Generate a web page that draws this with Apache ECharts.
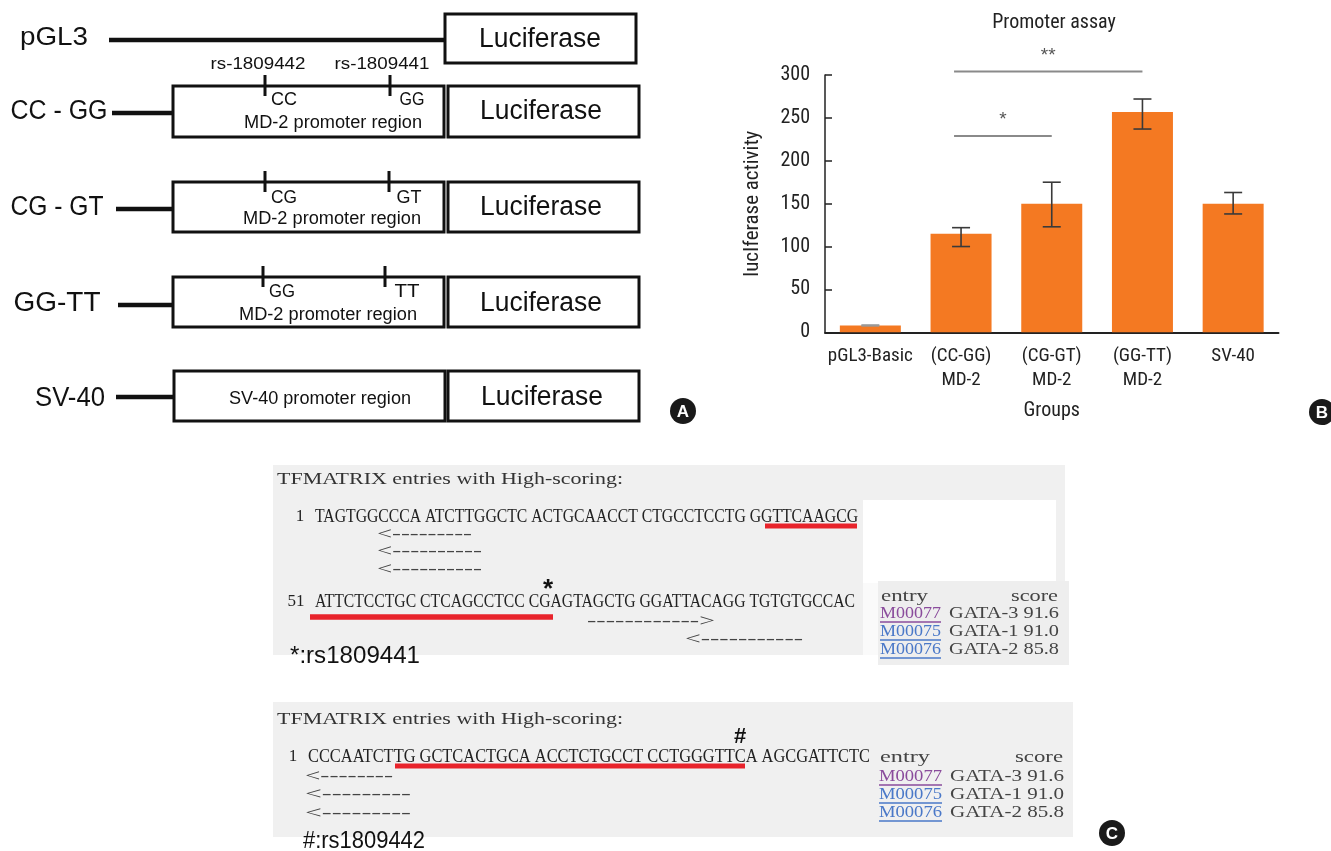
<!DOCTYPE html>
<html style="height: 100%">
    <head>
        <title>Promoter assay</title>
        <meta charset="utf-8">
    </head>
    <body style="height: 100%; margin: 0; background: #fff">
        <div id="container" style="width: 1331px; height: 851px"></div>

        <script type="text/javascript" src="https://cdn.jsdelivr.net/npm/echarts@6/dist/echarts.min.js"></script>
        <script type="text/javascript">
            // panel B data
            var categories = ['pGL3-Basic', '(CC-GG)\nMD-2', '(CG-GT)\nMD-2', '(GG-TT)\nMD-2', 'SV-40'];
            var activity = [8, 115, 150, 257, 150];
            var errLow = [7.5, 100, 123, 237, 138];
            var errHigh = [8.5, 122, 175, 272, 163];
            // [from category, to category, level, mark]
            var sigPairs = [[1, 3, 304, '**'], [1, 2, 229, '*']];

            // panel A / C texts
            var constructs = ['pGL3', 'CC - GG', 'CG - GT', 'GG-TT', 'SV-40'];
            var alleles = [['CC', 'GG'], ['CG', 'GT'], ['GG', 'TT']];
            var seqLines1 = ['TAGTGGCCCA ATCTTGGCTC ACTGCAACCT CTGCCTCCTG GGTTCAAGCG',
                             'ATTCTCCTGC CTCAGCCTCC CGAGTAGCTG GGATTACAGG TGTGTGCCAC'];
            var seqLine2 = 'CCCAATCTTG GCTCACTGCA ACCTCTGCCT CCTGGGTTCA AGCGATTCTC';
            var entries = [['M00077', 'GATA-3 91.6', '#8a4c9c'],
                           ['M00075', 'GATA-1 91.0', '#4a78c8'],
                           ['M00076', 'GATA-2 85.8', '#4a78c8']];

            var NARROW = "'Liberation Sans Narrow', 'Roboto Condensed', 'Arial Narrow', 'Liberation Sans', sans-serif";
            var SANS = "'Liberation Sans', Arial, sans-serif";
            var SERIF = "'Liberation Serif', 'Times New Roman', serif";

            var ctx = document.createElement('canvas').getContext('2d');
            function fitText(str, x, y, w, size, family, opts) {
                opts = opts || {};
                var weight = opts.weight || 'normal';
                ctx.font = weight + ' ' + size + 'px ' + family;
                var sx = w ? w / ctx.measureText(str).width : 1;
                return {
                    type: 'text', x: x, y: y, scaleX: sx, z: 20,
                    style: {
                        text: str, fill: opts.color || '#111', fontSize: size, fontFamily: family,
                        fontWeight: weight, textAlign: opts.align || 'center', textVerticalAlign: 'middle'
                    }
                };
            }
            function box(x1, y1, x2, y2, fill, stroke, lw) {
                return {
                    type: 'rect', z: 5, shape: { x: x1, y: y1, width: x2 - x1, height: y2 - y1 },
                    style: { fill: fill || '#fff', stroke: stroke || null, lineWidth: lw || 0 }
                };
            }
            function seg(x1, y1, x2, y2, lw, color) {
                return {
                    type: 'line', z: 10, shape: { x1: x1, y1: y1, x2: x2, y2: y2 },
                    style: { stroke: color || '#111', lineWidth: lw }
                };
            }
            function badge(cx, cy, letter) {
                return [
                    { type: 'circle', z: 20, shape: { cx: cx, cy: cy, r: 13 }, style: { fill: '#1a1a1a' } },
                    fitText(letter, cx, cy + 1, 0, 17, SANS, { weight: 'bold', color: '#fff' })
                ];
            }

            var g = [];
            // ---- panel A ----
            g.push(fitText(constructs[0], 54, 38, 68, 26, SANS));
            g.push(seg(109, 40, 445, 40, 4.5));
            g.push(box(445, 14, 636, 63, '#fff', '#111', 3));
            g.push(fitText('Luciferase', 540, 40, 122, 27, SANS));
            g.push(fitText('rs-1809442', 258, 64, 95, 17, SANS));
            g.push(fitText('rs-1809441', 382, 64, 95, 17, SANS));

            var rows = [
                { lab: 59, labW: 97, cy: 112, lx1: 112, top: 86, bot: 137, tick: [265, 390], lt: [284, 412], ly: 100, mdx: 333 },
                { lab: 57, labW: 93, cy: 208, lx1: 116, top: 182, bot: 232, tick: [265, 389], lt: [284, 409], ly: 198, mdx: 332 },
                { lab: 57, labW: 87, cy: 304, lx1: 118, top: 277, bot: 327, tick: [263, 385], lt: [282, 407], ly: 292, mdx: 328 }
            ];
            rows.forEach(function (r, i) {
                g.push(fitText(constructs[i + 1], r.lab, r.cy, r.labW, 27, SANS));
                g.push(seg(r.lx1, r.cy + 1, 173, r.cy + 1, 4.5));
                g.push(box(173, r.top, 444, r.bot, '#fff', '#111', 3));
                g.push(box(448, r.top, 639, r.bot, '#fff', '#111', 3));
                g.push(fitText('Luciferase', 541, r.cy, 122, 27, SANS));
                g.push(seg(r.tick[0], r.top - 11, r.tick[0], r.top + 10, 3));
                g.push(seg(r.tick[1], r.top - 11, r.tick[1], r.top + 10, 3));
                g.push(fitText(alleles[i][0], r.lt[0], r.ly, 26, 18, SANS));
                g.push(fitText(alleles[i][1], r.lt[1], r.ly, 25, 18, SANS));
                g.push(fitText('MD-2 promoter region', r.mdx, r.cy + 11, 178, 18, SANS));
            });
            g.push(fitText(constructs[4], 70, 399, 70, 27, SANS));
            g.push(seg(116, 397, 174, 397, 4.5));
            g.push(box(174, 371, 445, 421, '#fff', '#111', 3));
            g.push(box(448, 371, 639, 421, '#fff', '#111', 3));
            g.push(fitText('SV-40 promoter region', 320, 399, 182, 18, SANS));
            g.push(fitText('Luciferase', 542, 398, 122, 27, SANS));
            g = g.concat(badge(683, 411, 'A'));

            // ---- panel C, first screenshot ----
            g.push(box(273, 465, 1065, 655, '#f0f0f0'));
            g.push(box(863, 500, 1056, 583, '#ffffff'));
            g.push(box(863, 583, 878, 655, '#fafafa'));
            g.push(box(878, 581, 1069, 665, '#eeeeee'));
            g.push(fitText('TFMATRIX entries with High-scoring:', 277, 480, 346, 17, SERIF, { align: 'left', color: '#333' }));
            g.push(fitText('1', 300, 517, 0, 17, SERIF, { color: '#222' }));
            g.push(fitText(seqLines1[0], 315, 517, 543, 18, SERIF, { align: 'left', color: '#222' }));
            g.push(seg(765, 526, 857, 526, 5, '#e8232b'));
            g.push(fitText('<---------', 377, 535, 95, 16, SERIF, { align: 'left', color: '#444' }));
            g.push(fitText('<----------', 377, 552, 105, 16, SERIF, { align: 'left', color: '#444' }));
            g.push(fitText('<----------', 377, 570, 105, 16, SERIF, { align: 'left', color: '#444' }));
            g.push(fitText('*', 548, 590, 0, 26, SANS, { weight: 'bold' }));
            g.push(fitText('51', 296, 602, 0, 17, SERIF, { color: '#222' }));
            g.push(fitText(seqLines1[1], 315, 602, 540, 18, SERIF, { align: 'left', color: '#222' }));
            g.push(seg(310, 617, 553, 617, 5.5, '#e8232b'));
            g.push(fitText('------------>', 587, 622, 128, 16, SERIF, { align: 'left', color: '#444' }));
            g.push(fitText('<-----------', 685, 640, 118, 16, SERIF, { align: 'left', color: '#444' }));
            g.push(fitText('*:rs1809441', 290, 657, 130, 23, SANS, { align: 'left' }));
            g.push(fitText('entry', 881, 597, 47, 17, SERIF, { align: 'left', color: '#444' }));
            g.push(fitText('score', 1058, 597, 47, 17, SERIF, { align: 'right', color: '#444' }));
            entries.forEach(function (e, i) {
                var y = 614 + i * 18;
                g.push(fitText(e[0], 880, y, 61, 17, SERIF, { align: 'left', color: e[2] }));
                g.push(seg(880, y + 8, 941, y + 8, 1.5, e[2]));
                g.push(fitText(e[1], 949, y, 110, 17, SERIF, { align: 'left', color: '#444' }));
            });

            // ---- panel C, second screenshot ----
            g.push(box(273, 702, 1073, 837, '#f0f0f0'));
            g.push(fitText('TFMATRIX entries with High-scoring:', 277, 720, 346, 17, SERIF, { align: 'left', color: '#333' }));
            g.push(fitText('#', 740, 737, 0, 22, SANS, { weight: 'bold' }));
            g.push(fitText('1', 293, 757, 0, 17, SERIF, { color: '#222' }));
            g.push(fitText(seqLine2, 308, 757, 562, 18, SERIF, { align: 'left', color: '#222' }));
            g.push(seg(395, 766, 745, 766, 5, '#e8232b'));
            g.push(fitText('entry', 880, 758, 50, 17, SERIF, { align: 'left', color: '#444' }));
            g.push(fitText('score', 1063, 758, 48, 17, SERIF, { align: 'right', color: '#444' }));
            g.push(fitText('<--------', 305, 777, 88, 16, SERIF, { align: 'left', color: '#444' }));
            g.push(fitText('<---------', 305, 795, 106, 16, SERIF, { align: 'left', color: '#444' }));
            g.push(fitText('<---------', 305, 814, 106, 16, SERIF, { align: 'left', color: '#444' }));
            entries.forEach(function (e, i) {
                var y = 777 + i * 18;
                g.push(fitText(e[0], 879, y, 63, 17, SERIF, { align: 'left', color: e[2] }));
                g.push(seg(879, y + 8, 942, y + 8, 1.5, e[2]));
                g.push(fitText(e[1], 950, y, 114, 17, SERIF, { align: 'left', color: '#444' }));
            });
            g.push(fitText('#:rs1809442', 303, 842, 122, 23, SANS, { align: 'left' }));
            g = g.concat(badge(1112, 833, 'C'));

            // ---- panel B badge ----
            g = g.concat(badge(1322, 412, 'B'));

            var dom = document.getElementById('container');
            var myChart = echarts.init(dom);
            var option = {
                animation: false,
                backgroundColor: '#fff',
                title: {
                    text: 'Promoter assay',
                    left: 1049, top: 8, textAlign: 'center',
                    textStyle: { fontSize: 20, fontWeight: 'normal', color: '#222', fontFamily: NARROW }
                },
                grid: { left: 825, top: 75, width: 453.5, height: 257.3 },
                xAxis: {
                    type: 'category',
                    data: categories,
                    name: 'Groups',
                    nameLocation: 'middle',
                    nameGap: 69,
                    nameTextStyle: { fontSize: 20, color: '#222', fontFamily: NARROW },
                    axisTick: { show: false },
                    axisLine: { lineStyle: { color: '#222', width: 2 } },
                    axisLabel: { fontSize: 19, lineHeight: 24, color: '#222', margin: 12, fontFamily: NARROW, interval: 0 }
                },
                yAxis: {
                    type: 'value',
                    min: 0, max: 300, interval: 50,
                    name: 'lucIferase activity',
                    nameLocation: 'middle',
                    nameGap: 62,
                    nameTextStyle: { fontSize: 21, color: '#222', fontFamily: NARROW },
                    splitLine: { show: false },
                    axisLine: { show: true, lineStyle: { color: '#222', width: 1.5 } },
                    axisTick: { show: true, inside: true, length: 7, lineStyle: { color: '#222', width: 1.5 } },
                    axisLabel: { fontSize: 20, color: '#222', margin: 15, fontFamily: NARROW }
                },
                series: [
                    {
                        type: 'bar',
                        data: activity,
                        barWidth: 61,
                        itemStyle: { color: '#f47922' }
                    },
                    {
                        type: 'custom',
                        z: 5,
                        clip: false,
                        data: categories.map(function (c, i) { return [i, errLow[i], errHigh[i]]; }),
                        encode: { x: 0, y: [1, 2] },
                        renderItem: function (params, api) {
                            var lo = api.coord([api.value(0), api.value(1)]);
                            var hi = api.coord([api.value(0), api.value(2)]);
                            var hw = 9;
                            var st = { stroke: params.dataIndex === 0 ? '#999' : '#3a3a3a', lineWidth: 1.6 };
                            return {
                                type: 'group',
                                children: [
                                    { type: 'line', shape: { x1: lo[0], y1: lo[1], x2: hi[0], y2: hi[1] }, style: st },
                                    { type: 'line', shape: { x1: lo[0] - hw, y1: lo[1], x2: lo[0] + hw, y2: lo[1] }, style: st },
                                    { type: 'line', shape: { x1: hi[0] - hw, y1: hi[1], x2: hi[0] + hw, y2: hi[1] }, style: st }
                                ]
                            };
                        }
                    },
                    {
                        type: 'custom',
                        z: 5,
                        clip: false,
                        data: sigPairs.map(function (p) { return [p[0], p[1], p[2]]; }),
                        encode: { x: [0, 1], y: 2 },
                        renderItem: function (params, api) {
                            var a = api.coord([api.value(0), api.value(2)]);
                            var b = api.coord([api.value(1), api.value(2)]);
                            var mid = (a[0] - 7 + b[0]) / 2;
                            return {
                                type: 'group',
                                children: [
                                    { type: 'line', shape: { x1: a[0] - 7, y1: a[1], x2: b[0], y2: b[1] }, style: { stroke: '#8a8a8a', lineWidth: 2 } },
                                    {
                                        type: 'text', x: mid, y: a[1] - 16,
                                        style: { text: sigPairs[params.dataIndex][3], fill: '#555', fontSize: 19, fontFamily: SANS, textAlign: 'center', textVerticalAlign: 'middle' }
                                    }
                                ]
                            };
                        }
                    }
                ],
                graphic: g
            };
            if (option && typeof option === 'object') {
                myChart.setOption(option);
            }
        </script>
    </body>
</html>
